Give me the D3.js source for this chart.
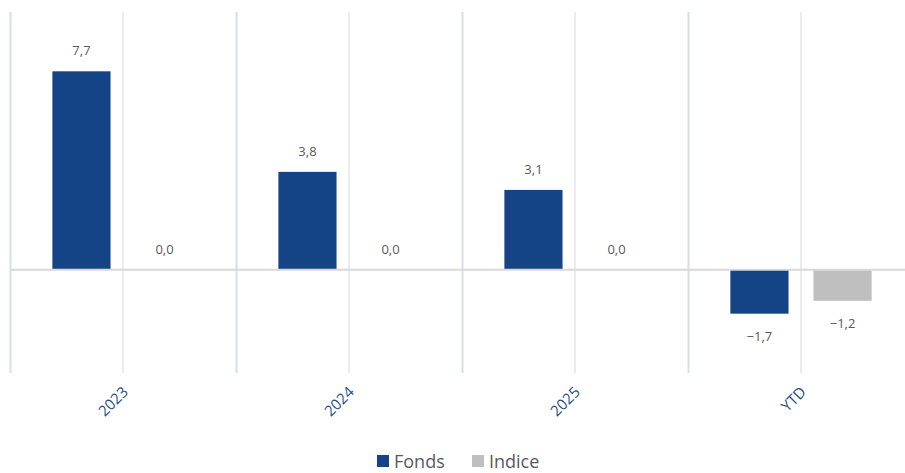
<!DOCTYPE html>
<html>
<head>
<meta charset="utf-8">
<script src="https://cdn.jsdelivr.net/npm/d3@7"></script>
<style>
  body { margin: 0; background: #fff; }
</style>
</head>
<body>
<div id="chart"></div>
<script>
const categories = ["2023", "2024", "2025", "YTD"];
const seriesNames = ["Fonds", "Indice"];
const fondsValues = [7.7, 3.8, 3.1, -1.7];
const indiceValues = [0.0, 0.0, 0.0, -1.2];
const colors = ["#144486", "#bfbfbf"];

const W = 905, H = 473;
const plot = { left: 10, right: 914, top: 12, bottom: 373 };

const svg = d3.select("#chart")
  .append("svg")
  .attr("width", W)
  .attr("height", H)
  .style("font-family", "'Open Sans', sans-serif");

const rows = categories.map((c, i) => ({ cat: c, Fonds: fondsValues[i], Indice: indiceValues[i] }));

const x = d3.scaleBand()
  .domain(categories)
  .range([plot.left, plot.right])
  .padding(0);

const xs = d3.scaleBand()
  .domain(seriesNames)
  .range([0, x.bandwidth()])
  .paddingInner(0.3)
  .paddingOuter(0.51);

const y = d3.scaleLinear()
  .domain([-4, 10])
  .range([plot.bottom, plot.top]);

const color = d3.scaleOrdinal().domain(seriesNames).range(colors);

// category boundary lines
svg.append("g")
  .selectAll("line")
  .data(categories)
  .join("line")
  .attr("x1", d => x(d) + 0.5)
  .attr("x2", d => x(d) + 0.5)
  .attr("y1", plot.top)
  .attr("y2", plot.bottom)
  .attr("stroke", "#d5dfea")
  .attr("stroke-width", 2);

// mid category lines
svg.append("g")
  .selectAll("line")
  .data(categories)
  .join("line")
  .attr("x1", d => x(d) + x.bandwidth() / 2)
  .attr("x2", d => x(d) + x.bandwidth() / 2)
  .attr("y1", plot.top)
  .attr("y2", plot.bottom)
  .attr("stroke", "#ececec")
  .attr("stroke-width", 2);

// bars
const groups = svg.append("g")
  .selectAll("g")
  .data(rows)
  .join("g")
  .attr("transform", d => `translate(${x(d.cat)},0)`);

groups.selectAll("rect")
  .data(d => seriesNames.map(k => ({ key: k, value: d[k] })))
  .join("rect")
  .attr("x", d => xs(d.key))
  .attr("width", xs.bandwidth())
  .attr("y", d => y(Math.max(0, d.value)))
  .attr("height", d => Math.abs(y(d.value) - y(0)))
  .attr("fill", d => color(d.key));

// zero line
svg.append("line")
  .attr("x1", plot.left)
  .attr("x2", W)
  .attr("y1", y(0))
  .attr("y2", y(0))
  .attr("stroke", "#d9d9d9")
  .attr("stroke-width", 2);

// value labels
const fmt = v => v.toFixed(1).replace(".", ",").replace("-", "\u2212");
groups.selectAll("text")
  .data(d => seriesNames.map(k => ({ key: k, value: d[k] })))
  .join("text")
  .attr("x", d => xs(d.key) + xs.bandwidth() / 2)
  .attr("y", d => d.value < 0 ? y(d.value) + 22 : y(d.value) - 21)
  .attr("text-anchor", "middle")
  .attr("dominant-baseline", "central")
  .attr("fill", "#595959")
  .style("font-size", "13px")
  .text(d => fmt(d.value));

// x axis labels
svg.append("g")
  .selectAll("text")
  .data(categories)
  .join("text")
  .attr("transform", d => `translate(${x(d) + x.bandwidth() / 2 + 6},${plot.bottom + 20}) rotate(-45)`)
  .attr("text-anchor", "end")
  .attr("fill", "#1f4e8c")
  .style("font-size", "15px")
  .text(d => d);

// legend
const legend = svg.append("g")
  .attr("transform", `translate(377, 461)`);

const items = [{ name: "Fonds", x: 0 }, { name: "Indice", x: 95 }];
items.forEach(it => {
  const row = legend.append("g").attr("transform", `translate(${it.x},0)`);
  row.append("rect")
    .attr("y", -6)
    .attr("width", 12)
    .attr("height", 12)
    .attr("fill", color(it.name));
  row.append("text")
    .attr("x", 17)
    .attr("y", 0)
    .attr("dominant-baseline", "central")
    .attr("fill", "#595959")
    .style("font-size", "18px")
    .text(it.name);
});
</script>
</body>
</html>
